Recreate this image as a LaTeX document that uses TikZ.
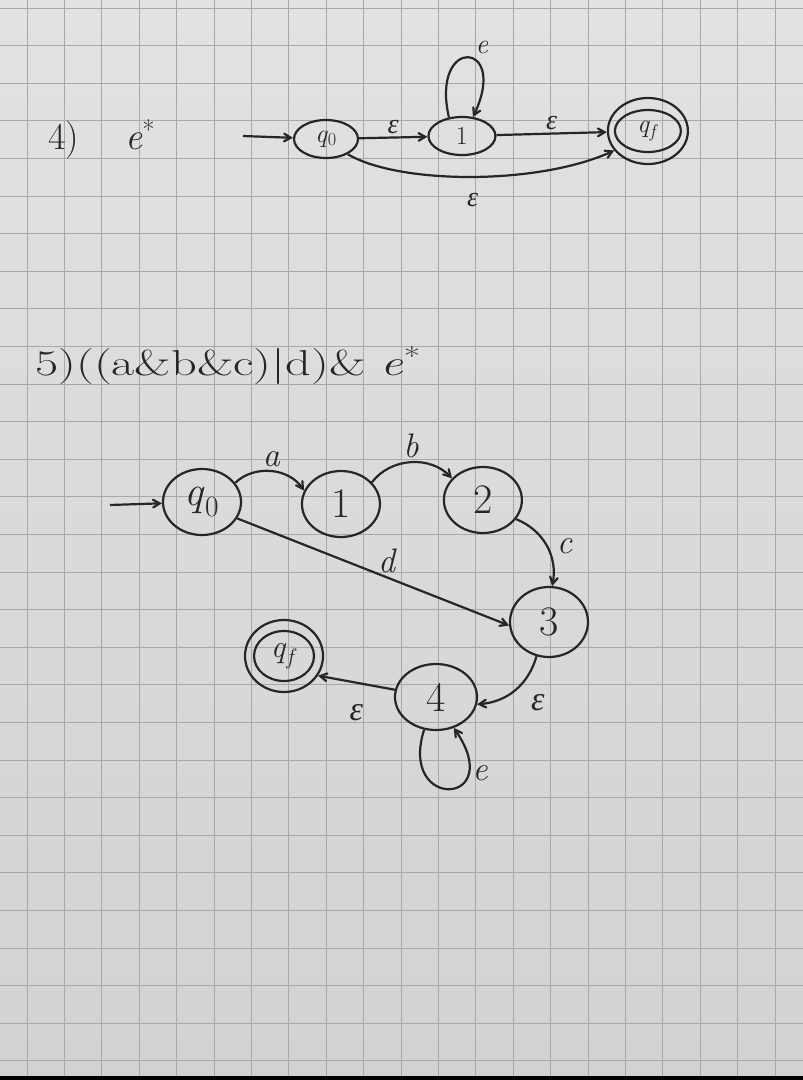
\documentclass[tikz,border=0pt]{standalone}
\usepackage{fontspec}
\usepackage{tikz}
\usepackage{graphicx}
\usetikzlibrary{shapes.geometric, arrows}
\newfontfamily\greekfont{Liberation Serif}
\newcommand{\epsglyph}{{\greekfont\itshape ε}}
\definecolor{ink}{RGB}{38,38,38}
\definecolor{papertop}{RGB}{226,226,224}
\definecolor{paperbottom}{RGB}{210,210,208}
\definecolor{gridgray}{RGB}{168,168,166}
\tikzstyle{state} = [ellipse, draw=ink, line width=2.2pt, inner sep=0pt,
    minimum width=78pt, minimum height=66pt, text=ink,
    font=\fontsize{42}{44}\selectfont]
\tikzstyle{smallstate} = [state, minimum width=64pt, minimum height=38pt,
    font=\fontsize{26}{28}\selectfont]
\tikzstyle{ring} = [draw=ink, line width=2.2pt]
\tikzstyle{arrow} = [line width=2.2pt, draw=ink, ->, >=angle 60]
\tikzstyle{edgetext} = [text=ink, inner sep=3pt, font=\fontsize{34}{36}\selectfont\itshape]
\tikzstyle{smalltext} = [edgetext, font=\fontsize{28}{30}\selectfont\itshape]
\tikzstyle{heading} = [text=ink, inner sep=0pt, font=\fontsize{38}{40}\selectfont]
\tikzstyle{gridline} = [draw=gridgray, line width=0.8pt]

\begin{document}
\begin{tikzpicture}[x=1pt, y=-1pt]
            % Paper
            \useasboundingbox (0,0) rectangle (803,1080);
            \shade[top color=papertop, bottom color=paperbottom] (0,0) rectangle (803,1080);
            \foreach \gx in {0,...,20}
                \draw[gridline] (27+37.4*\gx,0) -- (27+37.4*\gx,1080);
            \foreach \gy in {0,...,28}
                \draw[gridline] (0,8+37.6*\gy) -- (803,8+37.6*\gy);
            \fill[black] (0,1076) rectangle (803,1080);
            % Exercise 4
            \node[heading, anchor=base west] (title4) at (48,149)
            {4)\hspace{46pt}\textit{e}\textsuperscript{*}};
            \node[smallstate] (q0a) at (326,139) {\textit{q}\textsubscript{0}};
            \node[smallstate, minimum width=67pt, right of=q0a, xshift=107.5pt,
            yshift=3pt] (s1a) {1};
            \node[smallstate, minimum width=80pt, minimum height=66pt, right of=s1a,
            xshift=157.5pt, yshift=5pt] (qfa) {\textit{q}\textsubscript{\textit{f}}};
            \draw[ring] (qfa.center) ellipse (33pt and 21pt);
            \coordinate (starta) at (243,136);
            % Arrows
            \draw[arrow] (starta) -- (q0a);
            \draw[arrow] (q0a) -- node[smalltext, above] {\epsglyph} (s1a);
            \draw[arrow] (s1a) -- node[smalltext, above] {\epsglyph} (qfa);
            \draw[arrow] (s1a.125) .. controls (430,35) and (510,40) .. (s1a.60)
            node[smalltext, pos=0.55, above right] {e};
            \draw[arrow] (q0a.-35) .. controls (400,185) and (540,185) .. (qfa.210)
            node[smalltext, pos=0.5, below=12pt] {\epsglyph};
            % Exercise 5
            \node[heading, anchor=base west, font=\fontsize{36}{38}\selectfont] (title5)
            at (35,375) {\scalebox{1.40}[1]{5)((a\&b\&c)|d)\& \textit{e}\textsuperscript{*}}};
            \node[state] (q0b) at (202,502) {\textit{q}\textsubscript{0}};
            \node[state, right of=q0b, xshift=110.5pt, yshift=-2pt] (s1b) {1};
            \node[state, right of=s1b, xshift=113.5pt, yshift=4pt] (s2b) {2};
            \node[state, minimum height=70pt] (s3b) at (549,622) {3};
            \node[state, minimum width=82pt] (s4b) at (436,697) {4};
            \node[state, minimum height=72pt, font=\fontsize{32}{34}\selectfont] (qfb)
            at (284,656) {\textit{q}\textsubscript{\textit{f}}};
            \draw[ring] (qfb.center) ellipse (30pt and 25pt);
            \coordinate (startb) at (110,505);
            % Arrows
            \draw[arrow] (startb) -- (q0b);
            \draw[arrow] (q0b.30) to[bend left=50] node[edgetext, above] {a} (s1b.160);
            \draw[arrow] (s1b.35) to[bend left=50] node[edgetext, above] {b} (s2b.145);
            \draw[arrow] (s2b.-30) to[bend left=40] node[edgetext, right=6pt] {c} (s3b.85);
            \draw[arrow] (q0b.-25) -- node[edgetext, above, pos=0.55] {d} (s3b.185);
            \draw[arrow] (s3b.250) to[bend left=35] node[edgetext, below right, xshift=12pt] {\epsglyph} (s4b.-10);
            \draw[arrow] (s4b.170) -- node[edgetext, below=18pt] {\epsglyph} (qfb.-30);
            \draw[arrow] (s4b.250) .. controls (398,812) and (508,806) .. (s4b.300)
            node[edgetext, pos=0.75, right] {e};
\end{tikzpicture}
\end{document}
